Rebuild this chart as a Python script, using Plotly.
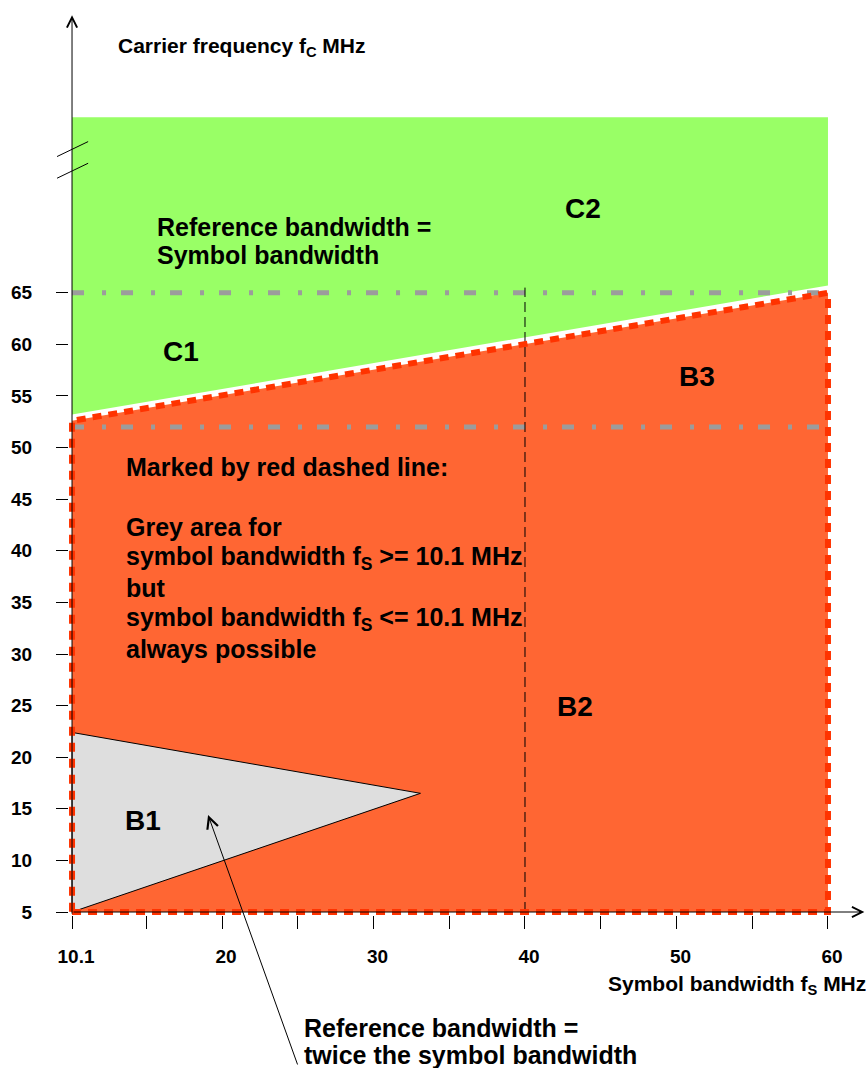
import plotly.graph_objects as go

# region outlines (symbol bandwidth MHz, carrier frequency MHz)
c_region_x = [10.1, 10.1, 60, 60]
c_region_y = [53.2, 82, 82, 65.7]
b_region_x = [10.1, 60, 60, 10.1, 10.1]
b_region_y = [5, 5, 65, 52.6, 5]
b1_x = [10.1, 33.1, 10.1, 10.1]
b1_y = [22.4, 16.5, 5, 22.4]

# grey dash-dot reference levels
ref_levels = [65, 52]
ref_span = [10.1, 60]

# black dashed split at 40 MHz
split_x = [40, 40]
split_y = [5, 65.5]

x_tick_vals = [10.1, 15, 20, 25, 30, 35, 40, 45, 50, 55, 60]
x_tick_text = ["10.1", "", "20", "", "30", "", "40", "", "50", "", "60"]
y_tick_vals = [5, 10, 15, 20, 25, 30, 35, 40, 45, 50, 55, 60, 65]

FONT = "Liberation Sans, Arial, sans-serif"
GREEN = "#99ff66"
RED_FILL = "#ff6633"
RED_DOT = "#ff3300"
GREY = "#9c9c9c"

fig = go.Figure()

fig.add_trace(go.Scatter(x=c_region_x, y=c_region_y, fill="toself", fillcolor=GREEN,
                         mode="lines", line=dict(width=0), hoverinfo="skip"))
fig.add_trace(go.Scatter(x=b_region_x, y=b_region_y, fill="toself", fillcolor=RED_FILL,
                         mode="lines", line=dict(width=0), hoverinfo="skip"))
fig.add_trace(go.Scatter(x=b1_x, y=b1_y, fill="toself", fillcolor="#dedede",
                         mode="lines", line=dict(color="black", width=1), hoverinfo="skip"))

for lvl in ref_levels:
    fig.add_trace(go.Scatter(x=ref_span, y=[lvl, lvl], mode="lines",
                             line=dict(color=GREY, width=5, dash="12px,18px,4px,15px"),
                             hoverinfo="skip"))

fig.add_trace(go.Scatter(x=split_x, y=split_y, mode="lines",
                         line=dict(color="black", width=1, dash="10px,5px"), hoverinfo="skip"))

# red dotted outline of the B area
fig.add_trace(go.Scatter(x=b_region_x, y=b_region_y, mode="lines",
                         line=dict(color=RED_DOT, width=6, dash="9px,7px"), hoverinfo="skip"))

# axis break marks
for y0 in [76.1, 78.2]:
    fig.add_shape(type="line", xref="paper", yref="y", x0=-0.015, x1=0.024,
                  y0=y0, y1=y0 + 1.45, line=dict(color="black", width=1))

anns = []
# axis arrows
anns.append(dict(x=10.1, y=91.9, ax=10.1, ay=4.7, xref="x", yref="y", axref="x", ayref="y",
                 text="", showarrow=True, arrowhead=5, arrowsize=2, arrowwidth=1,
                 arrowcolor="black", standoff=0, startstandoff=0))
anns.append(dict(x=62.4, y=5, ax=10.1, ay=5, xref="x", yref="y", axref="x", ayref="y",
                 text="", showarrow=True, arrowhead=5, arrowsize=2, arrowwidth=1,
                 arrowcolor="black", standoff=0, startstandoff=0))
# pointer to B1
anns.append(dict(x=19.08, y=14.4, ax=90, ay=251, xref="x", yref="y",
                 text="", showarrow=True, arrowhead=5, arrowsize=2.2, arrowwidth=1,
                 arrowcolor="black", standoff=0))


def label(x, y, text, size, xanchor="left", xref="x", yref="y"):
    anns.append(dict(x=x, y=y, xref=xref, yref=yref, text=text, showarrow=False,
                     xanchor=xanchor, yanchor="middle",
                     font=dict(family=FONT, size=size, color="black", weight="bold")))


label(13.0, 88.8, "Carrier frequency f<sub>C</sub> MHz", 21)
label(43.83, 73.2, "C2", 28, "center")
label(15.6, 71.4, "Reference bandwidth =", 25)
label(15.6, 68.7, "Symbol bandwidth", 25)
label(17.3, 59.3, "C1", 28, "center")
label(51.35, 56.9, "B3", 28, "center")
label(13.55, 48.1, "Marked by red dashed line:", 25)
label(13.55, 42.3, "Grey area for", 25)
label(13.55, 39.3, "symbol bandwidth f<sub>S</sub> >= 10.1 MHz", 25)
label(13.55, 36.4, "but", 25)
label(13.55, 33.4, "symbol bandwidth f<sub>S</sub> <= 10.1 MHz", 25)
label(13.55, 30.5, "always possible", 25)
label(43.3, 24.9, "B2", 28, "center")
label(14.79, 13.9, "B1", 28, "center")
label(1.002, -0.0775, "Symbol bandwidth f<sub>S</sub> MHz", 21, "right", "paper", "paper")
label(0.292, -0.1245, "Reference bandwidth =", 25, "left", "paper", "paper")
label(0.292, -0.1545, "twice the symbol bandwidth", 25, "left", "paper", "paper")

fig.update_layout(
    width=866, height=1068,
    margin=dict(l=69, r=0, t=10, b=153),
    paper_bgcolor="white", plot_bgcolor="white",
    showlegend=False,
    annotations=anns,
    xaxis=dict(range=[9.9, 62.51], showgrid=False, zeroline=False, showline=False,
               tickmode="array", tickvals=x_tick_vals, ticktext=x_tick_text,
               ticks="outside", ticklen=13, tickwidth=1, tickcolor="black",
               ticklabelstandoff=11, ticklabelshift=4, automargin=False,
               tickfont=dict(family=FONT, size=19, color="black", weight="bold")),
    yaxis=dict(range=[4.71, 92.4], showgrid=False, zeroline=False, showline=False,
               tickmode="array", tickvals=y_tick_vals,
               ticks="outside", ticklen=12, tickwidth=1, tickcolor="black",
               ticklabelstandoff=20, automargin=False,
               tickfont=dict(family=FONT, size=19, color="black", weight="bold")),
)

fig.write_html("out.html", config={"displayModeBar": False},
               post_script="document.body.style.margin='0';")
